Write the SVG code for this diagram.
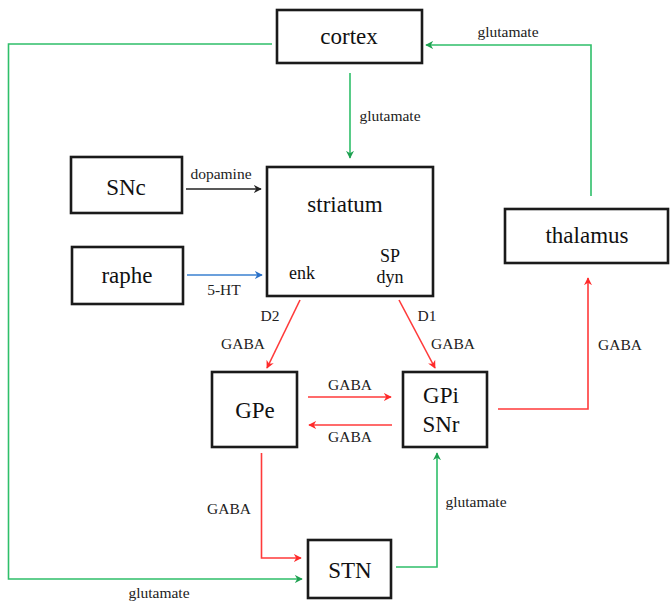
<svg xmlns="http://www.w3.org/2000/svg" width="670" height="604" viewBox="0 0 670 604">
<style>
.box{fill:#fff;stroke:#1a1a1a;stroke-width:2.6}
.big{font-family:"Liberation Serif","Times New Roman",serif;font-size:23px;fill:#111;text-anchor:middle}
.mid{font-family:"Liberation Serif","Times New Roman",serif;font-size:18px;fill:#111;text-anchor:middle}
.lab{font-family:"Liberation Serif","Times New Roman",serif;font-size:15.5px;fill:#222;text-anchor:middle}
.g{fill:none;stroke:#2fbf6a;stroke-width:1.6}
.r{fill:none;stroke:#ff3a3a;stroke-width:1.6}
.b{fill:none;stroke:#3a80d0;stroke-width:1.6}
.k{fill:none;stroke:#222;stroke-width:1.4}
</style>
<defs>
<marker id="ag" viewBox="0 0 10 10" refX="9" refY="5" markerWidth="8" markerHeight="8" markerUnits="userSpaceOnUse" orient="auto"><path d="M0,0 L10,5 L0,10 L3,5 Z" fill="#1ea050"/></marker>
<marker id="ar" viewBox="0 0 10 10" refX="9" refY="5" markerWidth="8" markerHeight="8" markerUnits="userSpaceOnUse" orient="auto"><path d="M0,0 L10,5 L0,10 L3,5 Z" fill="#ff2a2a"/></marker>
<marker id="ab" viewBox="0 0 10 10" refX="9" refY="5" markerWidth="8" markerHeight="8" markerUnits="userSpaceOnUse" orient="auto"><path d="M0,0 L10,5 L0,10 L3,5 Z" fill="#2a70c8"/></marker>
<marker id="ak" viewBox="0 0 10 10" refX="9" refY="5" markerWidth="8" markerHeight="8" markerUnits="userSpaceOnUse" orient="auto"><path d="M0,0 L10,5 L0,10 L3,5 Z" fill="#222"/></marker>
</defs>
<g id="connectors">
<path class="g" d="M272,44 H8.5 V579 H302" marker-end="url(#ag)"/>
<text class="lab" x="159" y="598">glutamate</text>
<path class="g" d="M591,196 V45 H426" marker-end="url(#ag)"/>
<text class="lab" x="508" y="37">glutamate</text>
<path class="g" d="M350,73 V158" marker-end="url(#ag)"/>
<text class="lab" x="390" y="121">glutamate</text>
<path class="k" d="M186,189 H261" marker-end="url(#ak)"/>
<text class="lab" x="221" y="179">dopamine</text>
<path class="b" d="M187,275 H262" marker-end="url(#ab)"/>
<text class="lab" x="224" y="295">5-HT</text>
<path class="r" d="M300,300 L267,368" marker-end="url(#ar)"/>
<text class="lab" x="270" y="321">D2</text>
<text class="lab" x="243" y="349">GABA</text>
<path class="r" d="M399,300 L435,368" marker-end="url(#ar)"/>
<text class="lab" x="427" y="321">D1</text>
<text class="lab" x="453" y="349">GABA</text>
<path class="r" d="M308,397 H391" marker-end="url(#ar)"/>
<text class="lab" x="350" y="390">GABA</text>
<path class="r" d="M392,425 H309" marker-end="url(#ar)"/>
<text class="lab" x="350" y="442">GABA</text>
<path class="r" d="M498,409 H588 V278" marker-end="url(#ar)"/>
<text class="lab" x="620" y="350">GABA</text>
<path class="r" d="M261.5,453 V558 H301" marker-end="url(#ar)"/>
<text class="lab" x="229" y="514">GABA</text>
<path class="g" d="M396,567 H437 V453" marker-end="url(#ag)"/>
<text class="lab" x="476" y="507">glutamate</text>
</g>
<g id="cortex"><rect class="box" x="277" y="10" width="145" height="53"/><text class="big" x="349" y="44">cortex</text></g>
<g id="SNc"><rect class="box" x="71" y="157" width="111" height="56"/><text class="big" x="126" y="195">SNc</text></g>
<g id="raphe"><rect class="box" x="72" y="247" width="111" height="57"/><text class="big" x="127" y="283">raphe</text></g>
<g id="striatum"><rect class="box" x="267" y="167" width="166" height="129"/><text class="big" x="345" y="212">striatum</text><text class="mid" x="302" y="279">enk</text><text class="mid" x="390" y="262">SP</text><text class="mid" x="390" y="283">dyn</text></g>
<g id="thalamus"><rect class="box" x="505" y="209" width="163" height="54"/><text class="big" x="587" y="243">thalamus</text></g>
<g id="GPe"><rect class="box" x="212" y="372" width="85" height="75"/><text class="big" x="255" y="418">GPe</text></g>
<g id="GPi_SNr"><rect class="box" x="403" y="372" width="84" height="75"/><text class="big" x="441" y="403">GPi</text><text class="big" x="441" y="432">SNr</text></g>
<g id="STN"><rect class="box" x="308" y="540" width="83" height="58"/><text class="big" x="350" y="578">STN</text></g>
</svg>
